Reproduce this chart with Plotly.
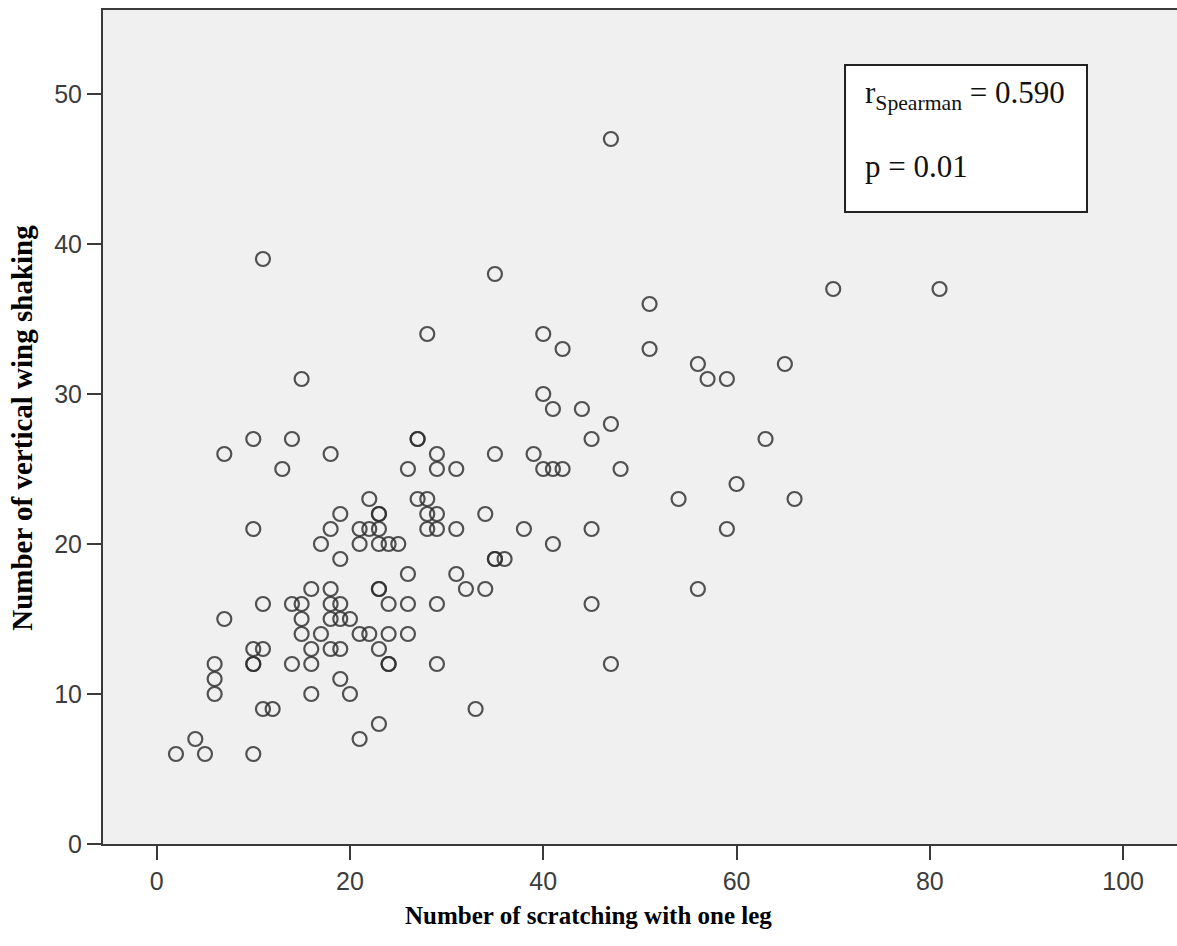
import plotly.graph_objects as go

# Number of scratching with one leg (x) and number of vertical wing shaking (y)
scratching = [2, 4, 5, 10, 6, 6, 6, 7, 7, 10, 10, 10, 10, 10, 11, 11, 11, 12, 11, 13,
              14, 14, 14, 15, 15, 15, 15, 16, 16, 16, 16, 17, 17, 18, 18, 18, 18, 18, 18,
              19, 19, 19, 19, 19, 19, 20, 20, 21, 21, 21, 21, 22, 22, 22, 23, 23, 23, 23,
              23, 23, 23, 23, 24, 24, 24, 24, 24, 25, 26, 26, 26, 26, 27, 27, 27, 28, 28,
              28, 28, 29, 29, 29, 29, 29, 29, 31, 31, 31, 32, 33, 34, 34, 35, 35, 35, 35,
              36, 38, 39, 40, 40, 40, 41, 41, 41, 42, 42, 44, 45, 45, 45, 47, 47, 47, 48,
              51, 51, 54, 56, 56, 57, 59, 59, 60, 63, 65, 66, 70, 81]
wing_shaking = [6, 7, 6, 6, 12, 11, 10, 15, 26, 27, 21, 13, 12, 12, 13, 16, 9, 9, 39, 25,
                27, 16, 12, 31, 16, 15, 14, 17, 13, 12, 10, 20, 14, 26, 21, 17, 16, 15, 13,
                22, 19, 16, 15, 13, 11, 15, 10, 21, 20, 14, 7, 23, 21, 14, 22, 22, 21, 20,
                17, 17, 13, 8, 20, 16, 14, 12, 12, 20, 25, 18, 16, 14, 27, 27, 23, 23, 22,
                21, 34, 26, 25, 22, 21, 16, 12, 25, 21, 18, 17, 9, 22, 17, 38, 26, 19, 19,
                19, 21, 26, 34, 30, 25, 29, 25, 20, 33, 25, 29, 27, 21, 16, 47, 28, 12, 25,
                36, 33, 23, 32, 17, 31, 31, 21, 24, 27, 32, 23, 37, 37]

x_ticks = [0, 20, 40, 60, 80, 100]
y_ticks = [0, 10, 20, 30, 40, 50]

stat_line1 = "r<sub>Spearman</sub> = 0.590"
stat_line2 = "p = 0.01"
x_title = "Number of scratching with one leg"
y_title = "Number of vertical wing shaking"

fig = go.Figure()
fig.add_trace(go.Scatter(
    x=scratching, y=wing_shaking, mode="markers",
    marker=dict(symbol="circle-open", size=14, color="rgba(45,45,45,0.82)",
                line=dict(width=2.2, color="rgba(45,45,45,0.82)")),
    hoverinfo="x+y", showlegend=False,
))

axis_common = dict(
    showgrid=False, zeroline=False, showline=True, linecolor="#3a3a3a", linewidth=2,
    ticks="outside", ticklen=14, tickwidth=2, tickcolor="#3a3a3a",
    tickfont=dict(family="Liberation Sans, Arial, sans-serif", size=25, color="#3c3c3c"),
)

fig.update_xaxes(range=[-5.55, 105.57], tickvals=x_ticks, mirror=True, **axis_common)
fig.update_yaxes(range=[0, 55.6], tickvals=y_ticks, mirror=False, **axis_common)

fig.update_layout(
    width=1177, height=946,
    margin=dict(l=103, r=0, t=10, b=102, autoexpand=False),
    paper_bgcolor="white", plot_bgcolor="#f0f0f0",
    shapes=[dict(type="rect", xref="paper", yref="paper",
                 x0=0.6909, x1=0.9162, y0=0.7578, y1=0.9341,
                 fillcolor="white", line=dict(color="#222222", width=2), layer="above")],
    annotations=[
        dict(text=stat_line1, xref="paper", yref="paper", x=0.7076, y=0.898,
             xanchor="left", yanchor="middle", showarrow=False,
             font=dict(family="Liberation Serif, Times New Roman, serif", size=31, color="#111")),
        dict(text=stat_line2, xref="paper", yref="paper", x=0.7076, y=0.812,
             xanchor="left", yanchor="middle", showarrow=False,
             font=dict(family="Liberation Serif, Times New Roman, serif", size=31, color="#111")),
        dict(text="<b>" + x_title + "</b>", xref="paper", yref="paper", x=0.4516, y=-0.086,
             xanchor="center", yanchor="middle", showarrow=False,
             font=dict(family="Liberation Serif, Times New Roman, serif", size=25, color="#000")),
        dict(text="<b>" + y_title + "</b>", xref="paper", yref="paper", x=-0.0755, y=0.499,
             xanchor="center", yanchor="middle", showarrow=False, textangle=-90,
             font=dict(family="Liberation Serif, Times New Roman, serif", size=29, color="#000")),
    ],
)

fig.write_html("out.html")
